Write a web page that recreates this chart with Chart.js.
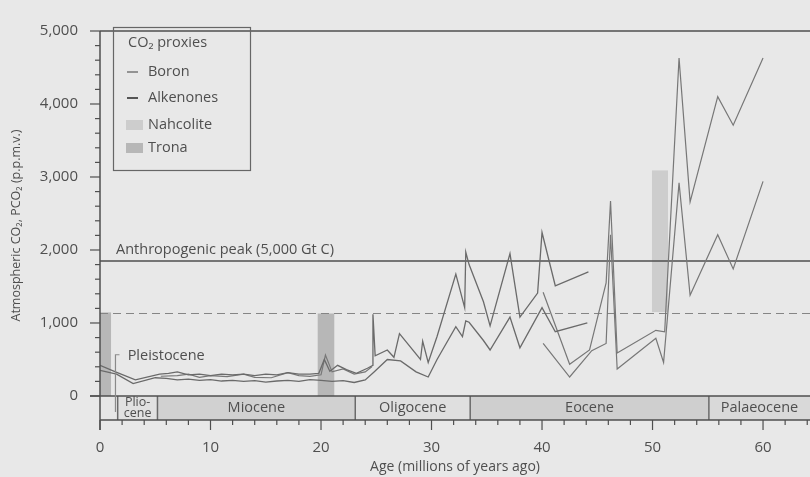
<!DOCTYPE html>
<html>
<head>
<meta charset="utf-8">
<script src="https://cdn.jsdelivr.net/npm/chart.js@4.4.0/dist/chart.umd.min.js"></script>
<style>
  html, body { margin:0; padding:0; background:#e8e8e8; }
</style>
</head>
<body>
<canvas id="co2" width="810" height="477"></canvas>
<script>
// ages in millions of years, CO2 in p.p.m.v.
const alkHiAge = [0, 1.4, 3.2, 5.4, 6.2, 7, 8, 9, 10, 11, 12, 13, 14, 15, 16, 17, 18, 19, 19.8, 20.3, 20.8, 21.5, 22.3, 23.2, 24.2, 24.7, 24.7, 24.9, 26, 26.6, 27.1, 29, 29.2, 29.7, 30.5, 32.2, 33.0, 33.1, 33.4, 34.7, 35.3, 37.1, 38.0, 39.6, 40.0, 41.2, 44.2];
const alkHiVal = [420, 330, 220, 300, 310, 330, 290, 300, 280, 300, 290, 300, 280, 300, 290, 320, 300, 300, 310, 500, 340, 420, 360, 310, 380, 420, 1120, 550, 630, 530, 855, 500, 750, 460, 815, 1670, 1210, 1970, 1800, 1290, 960, 1950, 1080, 1410, 2240, 1510, 1700];

const alkLoAge = [0, 1.5, 3.0, 5.0, 6, 7, 8, 9, 10, 11, 12, 13, 14, 15, 16, 17, 18, 19, 20, 21, 22, 23, 24, 24.8, 26, 27.2, 28.6, 29.7, 30.5, 32.2, 32.8, 33.1, 33.4, 34.7, 35.3, 37.1, 38.0, 40.0, 41.2, 44.1];
const alkLoVal = [350, 300, 170, 250, 240, 220, 230, 215, 225, 205, 215, 200, 210, 190, 205, 215, 200, 225, 215, 200, 210, 185, 220, 330, 500, 480, 330, 260, 500, 950, 815, 1030, 1010, 760, 630, 1080, 660, 1210, 880, 1000];

const boronHiAge = [5.5, 7, 8, 9, 10, 11.5, 13, 14, 15.5, 17, 18, 19, 20, 20.4, 21, 22, 23, 24, 24.6, 32, 40.1, 42.5, 44.3, 45.8, 46.2, 46.8, 50.3, 51.1, 52.4, 53.4, 55.9, 57.3, 60];
const boronHiVal = [270, 280, 300, 255, 280, 265, 300, 255, 250, 320, 280, 270, 290, 560, 330, 370, 300, 330, 400, null, 1420, 435, 630, 1550, 2670, 590, 900, 880, 4630, 2660, 4100, 3710, 4630];

const boronLoAge = [40.1, 42.5, 44.5, 45.8, 46.2, 46.8, 50.3, 51.0, 52.4, 53.4, 55.9, 57.3, 60];
const boronLoVal = [720, 260, 620, 720, 2210, 370, 790, 460, 2920, 1380, 2210, 1740, 2940];

// evaporite bars: [from age, to age], [low, high]
const barKind  = ['Trona', 'Trona', 'Nahcolite'];
const barAgeA  = [0, 19.7, 49.95];
const barAgeB  = [1.0, 21.2, 51.4];
const barLow   = [0, 0, 1150];
const barHigh  = [1145, 1130, 3090];

const epochNames = [[''], ['Plio-', 'cene'], ['Miocene'], ['Oligocene'], ['Eocene'], ['Palaeocene']];
const epochStart = [0, 1.6, 5.2, 23.1, 33.5, 55.1];
const epochEnd   = [1.6, 5.2, 23.1, 33.5, 55.1, 64.25];

const anthropPeak = 1850;
const dashedLevel = 1130;
const legendNames = ['Boron', 'Alkenones', 'Nahcolite', 'Trona'];
const xTicks = [0, 10, 20, 30, 40, 50, 60];
const yTicks = [0, 1000, 2000, 3000, 4000, 5000];

const FONT = "'Open Sans', sans-serif";
const INK = '#4f4f4f';
const kindFill = { Nahcolite: '#cdcdcd', Trona: '#b7b7b7' };
const epochFill = ['#e6e6e6', '#e1e1e1', '#d1d1d1', '#dfdfdf', '#cfcfcf', '#d9d9d9'];

function pts(a, v) { return a.map((t, i) => ({ x: t, y: v[i] })); }

const paper = {
  id: 'paper',
  beforeDraw(chart) {
    const c = chart.ctx;
    c.save();
    c.fillStyle = '#e8e8e8';
    c.fillRect(0, 0, chart.width, chart.height);
    c.restore();
  },
  beforeDatasetsDraw(chart) {
    const c = chart.ctx, x = chart.scales.x, y = chart.scales.y;
    const y0 = y.getPixelForValue(0), yb = y.getPixelForValue(y.min);
    const L = chart.chartArea.left, R = chart.chartArea.right;
    c.save();
    // epoch band
    epochStart.forEach((s, i) => {
      const l = x.getPixelForValue(s), r = x.getPixelForValue(epochEnd[i]);
      c.fillStyle = epochFill[i];
      c.fillRect(l, y0, r - l, yb - y0);
      c.fillStyle = INK;
      c.font = (i == 1 ? '12.5px ' : '14.5px ') + FONT;
      c.textAlign = 'center'; c.textBaseline = 'middle';
      const lines = epochNames[i];
      lines.forEach((t, k) => {
        const off = (k - (lines.length - 1) / 2) * 11;
        c.fillText(t, (l + r) / 2, (y0 + yb) / 2 + off);
      });
      if (i > 0) {
        c.strokeStyle = '#6a6a6a'; c.lineWidth = 1.5;
        c.beginPath(); c.moveTo(l, y0); c.lineTo(l, yb); c.stroke();
      }
    });
    // evaporite bars
    barKind.forEach((k, i) => {
      const l = x.getPixelForValue(barAgeA[i]), r = x.getPixelForValue(barAgeB[i]);
      const t = y.getPixelForValue(barHigh[i]), b = y.getPixelForValue(barLow[i]);
      c.fillStyle = kindFill[k];
      c.fillRect(l, t, r - l, b - t);
    });
    // reference lines
    c.strokeStyle = INK; c.lineWidth = 1.6;
    let py = y.getPixelForValue(anthropPeak);
    c.beginPath(); c.moveTo(L, py); c.lineTo(R, py); c.stroke();
    c.strokeStyle = '#858585'; c.lineWidth = 1.2; c.setLineDash([8, 5]);
    py = y.getPixelForValue(dashedLevel);
    c.beginPath(); c.moveTo(L, py); c.lineTo(R, py); c.stroke();
    c.setLineDash([]);
    c.restore();
  },
  afterDraw(chart) {
    const c = chart.ctx, x = chart.scales.x, y = chart.scales.y;
    const y0 = y.getPixelForValue(0), yb = y.getPixelForValue(y.min);
    const L = chart.chartArea.left, R = chart.chartArea.right, T = chart.chartArea.top;
    c.save();
    c.strokeStyle = INK; c.lineWidth = 1.5;
    // frame
    c.beginPath();
    c.moveTo(L, T); c.lineTo(R, T);
    c.moveTo(L - 10, y0); c.lineTo(R, y0);
    c.moveTo(L, yb); c.lineTo(R, yb);
    c.moveTo(L, T); c.lineTo(L, yb + 10);
    c.stroke();
    // y ticks
    c.lineWidth = 1.2;
    for (let v = 0; v <= 5000; v += 200) {
      const p = y.getPixelForValue(v);
      const len = v % 1000 == 0 ? 10 : 5;
      c.beginPath(); c.moveTo(L - len, p); c.lineTo(L, p); c.stroke();
    }
    // x ticks
    for (let a = 0; a <= 64; a += 2) {
      const p = x.getPixelForValue(a);
      const len = a % 10 == 0 ? 10 : 5;
      c.beginPath(); c.moveTo(p, yb); c.lineTo(p, yb + len); c.stroke();
    }
    // Pleistocene bracket
    const bx = x.getPixelForValue(1.4);
    c.strokeStyle = '#8a8a8a'; c.lineWidth = 1.2;
    c.beginPath();
    c.moveTo(bx + 4, y.getPixelForValue(565)); c.lineTo(bx, y.getPixelForValue(565));
    c.lineTo(bx, y.getPixelForValue(-220));
    c.stroke();
    c.fillStyle = INK; c.font = '14.5px ' + FONT;
    c.textAlign = 'left'; c.textBaseline = 'middle';
    c.fillText('Pleistocene', x.getPixelForValue(2.5), y.getPixelForValue(545));
    c.fillText('Anthropogenic peak (5,000 Gt C)', x.getPixelForValue(1.45), y.getPixelForValue(anthropPeak + 150));

    // legend
    c.strokeStyle = '#666'; c.lineWidth = 1.2;
    c.strokeRect(113.5, 27.5, 137, 143);
    c.fillStyle = INK;
    c.fillText('CO\u2082 proxies', 128, 43);
    const rows = [72, 98, 125, 148];
    legendNames.forEach((n, i) => {
      const ry = rows[i];
      if (i < 2) {
        c.strokeStyle = i == 0 ? '#777' : '#555';
        c.lineWidth = i == 0 ? 1.5 : 2;
        c.beginPath(); c.moveTo(127, ry); c.lineTo(138, ry); c.stroke();
      } else {
        c.fillStyle = kindFill[n];
        c.fillRect(126, ry - 5, 17, 10);
      }
      c.fillStyle = INK;
      c.fillText(n, 148, ry);
    });
    c.restore();
  }
};

Chart.defaults.font.family = FONT;
Chart.defaults.color = INK;

new Chart(document.getElementById('co2').getContext('2d'), {
  type: 'line',
  data: {
    datasets: [
      { label: 'Alkenones', data: pts(alkHiAge, alkHiVal), borderColor: '#6a6a6a', borderWidth: 1.3 },
      { label: 'Alkenones', data: pts(alkLoAge, alkLoVal), borderColor: '#6a6a6a', borderWidth: 1.3 },
      { label: 'Boron', data: pts(boronHiAge, boronHiVal), borderColor: '#777', borderWidth: 1.2 },
      { label: 'Boron', data: pts(boronLoAge, boronLoVal), borderColor: '#777', borderWidth: 1.2 }
    ]
  },
  options: {
    responsive: false,
    animation: false,
    devicePixelRatio: 1,
    spanGaps: false,
    elements: { point: { radius: 0 }, line: { tension: 0 } },
    layout: { padding: { top: 15, right: 0, left: 0, bottom: 0 } },
    plugins: { legend: { display: false }, tooltip: { enabled: false } },
    scales: {
      x: {
        type: 'linear', min: 0, max: 64.25,
        grid: { display: false, drawTicks: false },
        border: { display: false },
        ticks: { padding: 19, font: { size: 15 } },
        afterBuildTicks: s => { s.ticks = xTicks.map(v => ({ value: v })); },
        afterFit: s => { s.height = 57; },
        title: { display: true, text: 'Age (millions of years ago)', font: { size: 14 }, padding: { top: 0, bottom: 2 } }
      },
      y: {
        type: 'linear', min: -329, max: 5000,
        grid: { display: false, drawTicks: false },
        border: { display: false },
        ticks: { padding: 22, font: { size: 15 }, callback: v => v.toLocaleString('en-US') },
        afterBuildTicks: s => { s.ticks = yTicks.map(v => ({ value: v })); },
        afterFit: s => { s.width = 100; },
        title: { display: true, text: 'Atmospheric CO\u2082, PCO\u2082 (p.p.m.v.)', font: { size: 12.5 }, padding: { top: 9, bottom: 0 } }
      }
    }
  },
  plugins: [paper]
});
</script>
</body>
</html>
